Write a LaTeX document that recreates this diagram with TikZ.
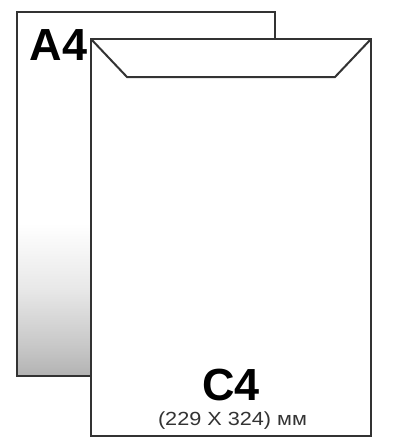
\documentclass[tikz,border=0pt]{standalone}
\usepackage{fontspec}
\setmainfont{Liberation Sans}
\pgfdeclareverticalshading{sheetshade}{100bp}{color(0bp)=(black!30); color(25bp)=(black!30); color(29bp)=(black!22); color(37bp)=(black!9); color(46bp)=(white); color(100bp)=(white)}
\begin{document}
\begin{tikzpicture}[x=1pt,y=-1pt,
  edge/.style={draw=black!80,line width=2pt,line join=miter},
  big/.style={font=\fontsize{45}{45}\selectfont\bfseries,inner sep=0pt,anchor=base},
  small/.style={font=\fontsize{19}{19}\selectfont,text=black!80,inner sep=0pt,anchor=base,xscale=1.14}]
\useasboundingbox (0,0) rectangle (400,440);
\fill[white] (0,0) rectangle (400,440);
% A4 sheet
\shade[shading=sheetshade] (17,12) rectangle (275,376);
\draw[edge] (17,12) rectangle (275,376);
\node[big] (a4) at (58.5,60) {A4};
% C4 envelope
\fill[white] (91,39) rectangle (371,436);
\draw[edge] (91,39) rectangle (371,436);
\draw[edge] (91,39) -- (127,77) -- (335,77) -- (371,39);
\node[big] (c4) at (231,400) {C4};
\node[small] (dim) at (232.5,425) {(229 X 324) мм};
\end{tikzpicture}
\end{document}
